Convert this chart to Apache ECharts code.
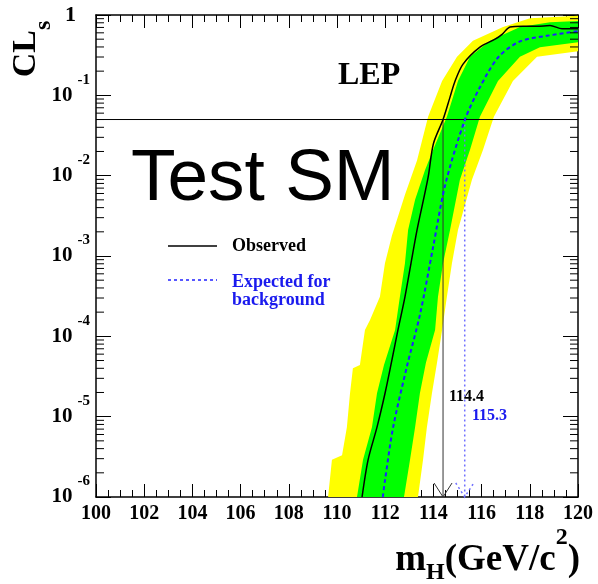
<!DOCTYPE html>
<html>
<head>
<meta charset="utf-8">
<script src="https://cdn.jsdelivr.net/npm/echarts@6/dist/echarts.min.js"></script>
<style>
  html, body { margin: 0; padding: 0; background: #fff; }
  #chart { width: 598px; height: 584px; }
</style>
</head>
<body>
<div id="chart"></div>
<script>
// CLs vs Higgs mass, LEP combination
var massMin = 100, massMax = 120;
var clsMin = 1e-6, clsMax = 1;
var clsLevel = 0.05;
var obsLimit = 114.4;
var expLimit = 115.3;

// observed CLs, [mass, CLs]
var observed = [
    [111.04, 1e-6], [111.29, 2.9e-6], [111.66, 7.4e-6], [112.0, 2e-5], [112.28, 5.1e-5],
    [112.53, 1.2e-4], [112.82, 3.1e-4], [113.07, 8.1e-4], [113.32, 2.1e-3], [113.78, 9.5e-3],
    [114.0, 0.025], [114.4, 0.05], [114.69, 0.095], [114.9, 0.151], [115.23, 0.245],
    [115.93, 0.398], [116.56, 0.5], [116.85, 0.575], [117.18, 0.708], [117.72, 0.724],
    [118.3, 0.724], [118.84, 0.74], [119.34, 0.676], [120, 0.676]
];

// expected CLs for background only
var expected = [
    [111.9, 1e-6], [111.99, 1.6e-6], [112.33, 7.4e-6], [112.9, 4.2e-5], [113.45, 1.9e-4],
    [113.99, 1.3e-3], [114.5, 7.9e-3], [115.3, 0.049], [115.93, 0.126], [116.7, 0.3],
    [117.6, 0.47], [118.7, 0.55], [120, 0.63]
];

// 2 sigma band (yellow), left/upper edge and right/lower edge
var yellowUpper = [
    [109.63, 1e-6], [109.79, 2.9e-6], [110.21, 3.3e-6], [110.41, 7.4e-6], [110.54, 1.95e-5],
    [110.66, 4.0e-5], [110.95, 4.4e-5], [111.16, 1.2e-4], [111.37, 1.6e-4], [111.78, 3.1e-4],
    [111.99, 8.1e-4], [112.28, 1.8e-3], [112.82, 5.8e-3], [113.32, 0.0155], [113.78, 0.054],
    [114.36, 0.151], [114.98, 0.302], [115.64, 0.479], [116.89, 0.708], [118.01, 0.912], [120, 0.977]
];
var yellowLower = [
    [113.36, 1e-6], [113.57, 2.9e-6], [113.73, 7.4e-6], [113.94, 1.95e-5], [114.15, 4.7e-5],
    [114.36, 1.2e-4], [114.56, 3.1e-4], [114.77, 8.1e-4], [115.02, 2.1e-3], [115.6, 8.9e-3],
    [116.06, 0.021], [116.51, 0.054], [117.3, 0.151], [118.3, 0.302], [120, 0.355]
];

// 1 sigma band (green)
var greenUpper = [
    [110.83, 1e-6], [111.08, 2.9e-6], [111.45, 7.4e-6], [111.66, 1.95e-5], [111.95, 4.4e-5],
    [112.41, 1.2e-4], [112.61, 3.1e-4], [112.82, 8.1e-4], [112.95, 2.1e-3], [113.24, 5.0e-3],
    [113.65, 0.0117], [114.07, 0.024], [114.56, 0.054], [115.02, 0.151], [115.52, 0.302],
    [116.35, 0.479], [117.59, 0.708], [118.84, 0.813], [120, 0.84]
];
var greenLower = [
    [112.78, 1e-6], [113.03, 2.9e-6], [113.24, 7.4e-6], [113.44, 1.95e-5], [113.69, 4.7e-5],
    [114.07, 1.2e-4], [114.19, 3.1e-4], [114.4, 8.1e-4], [114.69, 2.1e-3], [115.1, 8.9e-3],
    [115.52, 0.021], [115.93, 0.054], [116.68, 0.151], [117.59, 0.302], [118.42, 0.398], [120, 0.457]
];

// y axis ticks (decades + 2..9 minors)
var majorTicks = [1e-6, 1e-5, 1e-4, 1e-3, 1e-2, 1e-1, 1];
var minorTicks = [];
for (var d = -6; d < 0; d++) {
    for (var k = 2; k <= 9; k++) {
        minorTicks.push(parseFloat((k * Math.pow(10, d)).toPrecision(3)));
    }
}

var serif = '"Liberation Serif", "Times New Roman", serif';

function bandSeries(upper, lower, color) {
    var pts = upper.concat(lower.slice().reverse());
    return {
        type: 'custom',
        coordinateSystem: 'cartesian2d',
        silent: true,
        clip: true,
        data: [upper[0]],
        renderItem: function (params, api) {
            return {
                type: 'polygon',
                shape: { points: pts.map(function (p) { return api.coord(p); }) },
                style: { fill: color, stroke: null }
            };
        }
    };
}

function arrowSeries(mass, color, dash, width) {
    return {
        type: 'custom',
        coordinateSystem: 'cartesian2d',
        silent: true,
        clip: false,
        data: [[mass, clsLevel]],
        renderItem: function (params, api) {
            var top = api.coord([mass, clsLevel]);
            var tip = api.coord([mass, clsMin]);
            var st = { stroke: color, lineWidth: width, lineDash: dash, fill: null };
            return {
                type: 'group',
                children: [
                    { type: 'line', shape: { x1: top[0], y1: top[1], x2: tip[0], y2: tip[1] }, style: st },
                    { type: 'polyline', shape: { points: [[tip[0] - 9, tip[1] - 14], [tip[0], tip[1]], [tip[0] + 9, tip[1] - 14]] }, style: st }
                ]
            };
        }
    };
}

// log minor ticks (2..9 in each decade) on the left and right frame
var minorTickSeries = {
    type: 'custom',
    coordinateSystem: 'cartesian2d',
    silent: true,
    clip: false,
    z: 5,
    data: minorTicks.map(function (v) { return [massMin, v]; }),
    renderItem: function (params, api) {
        var v = api.value(1);
        var l = api.coord([massMin, v]);
        var r = api.coord([massMax, v]);
        return {
            type: 'group',
            children: [
                { type: 'line', shape: { x1: l[0], y1: l[1], x2: l[0] + 8, y2: l[1] }, style: { stroke: '#000', lineWidth: 1 } },
                { type: 'line', shape: { x1: r[0] - 8, y1: r[1], x2: r[0], y2: r[1] }, style: { stroke: '#000', lineWidth: 1 } }
            ]
        };
    }
};

function yAxisDef(pos) {
    return {
        type: 'log', logBase: 10, min: clsMin, max: clsMax, position: pos,
        axisLine: { show: true, onZero: false, lineStyle: { color: '#000', width: 1.5 } },
        axisTick: { show: true, inside: true, length: 15, customValues: majorTicks, lineStyle: { color: '#000', width: 1 } },
        axisLabel: pos === 'left' ? {
            show: true,
            customValues: majorTicks,
            margin: 6,
            formatter: function (v) {
                if (v > 0.5) return '{one|1}';
                return '{b|10}{e|' + Math.round(Math.log10(v)) + '}';
            },
            rich: {
                b: { fontFamily: serif, fontWeight: 'bold', fontSize: 21, color: '#000', lineHeight: 46, verticalAlign: 'middle' },
                e: { fontFamily: serif, fontWeight: 'bold', fontSize: 15, color: '#000', lineHeight: 15, verticalAlign: 'top', padding: [0, 0, 0, 5] },
                one: { fontFamily: serif, fontWeight: 'bold', fontSize: 22, color: '#000', lineHeight: 46, verticalAlign: 'middle', padding: [0, 14, 0, 0] }
            }
        } : { show: false },
        splitLine: { show: false },
        minorTick: { show: false }
    };
}

function xAxisDef(pos) {
    return {
        type: 'value', min: massMin, max: massMax, interval: 2, position: pos,
        axisLine: { show: true, onZero: false, lineStyle: { color: '#000', width: 1.5 } },
        axisTick: { show: true, inside: true, length: 13, lineStyle: { color: '#000', width: 1 } },
        minorTick: { show: true, splitNumber: 4, length: 7, lineStyle: { color: '#000', width: 1 } },
        axisLabel: pos === 'bottom' ? {
            show: true, margin: 7, color: '#000', fontFamily: serif, fontWeight: 'bold', fontSize: 20
        } : { show: false },
        splitLine: { show: false },
        minorSplitLine: { show: false }
    };
}

// x axis title m_H(GeV/c^2), pieces laid out with measured widths
function titlePieces(right, yMid) {
    var ctx = document.createElement('canvas').getContext('2d');
    var mainFont = 'bold 37px "Liberation Serif"';
    var smallFont = 'bold 24px "Liberation Serif"';
    var parts = [
        { t: 'm', f: mainFont, size: 37, dy: 0 },
        { t: 'H', f: smallFont, size: 24, dy: 13 },
        { t: '(GeV/c', f: mainFont, size: 37, dy: 0 },
        { t: '2', f: smallFont, size: 24, dy: -22 },
        { t: ')', f: mainFont, size: 37, dy: 0 }
    ];
    var total = 0;
    parts.forEach(function (p) { ctx.font = p.f; p.w = ctx.measureText(p.t).width; total += p.w; });
    var x = right - total;
    return parts.map(function (p) {
        var el = {
            type: 'text', x: x, y: yMid + p.dy,
            style: { text: p.t, fontFamily: serif, fontWeight: 'bold', fontSize: p.size, fill: '#000', verticalAlign: 'middle' }
        };
        x += p.w;
        return el;
    });
}

var chart = echarts.init(document.getElementById('chart'), null, { renderer: 'canvas' });

var graphics = [
    {
        type: 'text', x: 26, y: 49, rotation: Math.PI / 2,
        style: {
            text: '{a|CL}{s|s}', align: 'center', verticalAlign: 'middle',
            rich: {
                a: { fontFamily: serif, fontWeight: 'bold', fontSize: 34, fill: '#000', lineHeight: 60, verticalAlign: 'middle' },
                s: { fontFamily: serif, fontWeight: 'bold', fontSize: 24, fill: '#000', lineHeight: 24, verticalAlign: 'bottom' }
            }
        }
    },
    {
        type: 'text', x: 338, y: 76,
        style: { text: 'LEP', fontFamily: serif, fontWeight: 'bold', fontSize: 32, fill: '#000', verticalAlign: 'middle' }
    },
    {
        type: 'text', x: 131, y: 180,
        style: { text: 'Test SM', fontFamily: '"Liberation Sans", Arial, sans-serif', fontSize: 73, fill: '#000', verticalAlign: 'middle' }
    },
    {
        type: 'line', shape: { x1: 168, y1: 246, x2: 217, y2: 246 },
        style: { stroke: '#000', lineWidth: 1.5 }
    },
    {
        type: 'text', x: 232, y: 246,
        style: { text: 'Observed', fontFamily: serif, fontWeight: 'bold', fontSize: 18, fill: '#000', verticalAlign: 'middle' }
    },
    {
        type: 'line', shape: { x1: 168, y1: 280, x2: 217, y2: 280 },
        style: { stroke: '#2020ff', lineWidth: 1.5, lineDash: [3, 3] }
    },
    {
        type: 'text', x: 232, y: 291,
        style: { text: 'Expected for\nbackground', fontFamily: serif, fontWeight: 'bold', fontSize: 18, lineHeight: 18, fill: '#1a1aee', verticalAlign: 'middle' }
    },
    {
        type: 'text', x: 449, y: 397,
        style: { text: String(obsLimit), fontFamily: serif, fontWeight: 'bold', fontSize: 16, fill: '#000', verticalAlign: 'middle' }
    },
    {
        type: 'text', x: 472, y: 416,
        style: { text: String(expLimit), fontFamily: serif, fontWeight: 'bold', fontSize: 16, fill: '#1a1aee', verticalAlign: 'middle' }
    }
].concat(titlePieces(580, 560));

var option = {
    animation: false,
    backgroundColor: '#fff',
    grid: { left: 96, right: 20, top: 15, bottom: 87, containLabel: false },
    xAxis: [xAxisDef('bottom'), xAxisDef('top')],
    yAxis: [yAxisDef('left'), yAxisDef('right')],
    series: [
        bandSeries(yellowUpper, yellowLower, '#ffff00'),
        bandSeries(greenUpper, greenLower, '#00ff00'),
        {
            type: 'line', silent: true, showSymbol: false,
            data: [[massMin, clsLevel], [massMax, clsLevel]],
            lineStyle: { color: '#000', width: 1 }
        },
        arrowSeries(obsLimit, '#333', null, 1),
        arrowSeries(expLimit, '#7070ff', [2, 3], 1.5),
        {
            type: 'line', silent: true, showSymbol: false, smooth: 0.3,
            data: expected,
            lineStyle: { color: '#2020ff', width: 2, type: [4, 3] }
        },
        {
            type: 'line', silent: true, showSymbol: false, smooth: 0.3,
            data: observed,
            lineStyle: { color: '#000', width: 1.5 }
        },
        minorTickSeries
    ],
    graphic: graphics
};

chart.setOption(option);
</script>
</body>
</html>
